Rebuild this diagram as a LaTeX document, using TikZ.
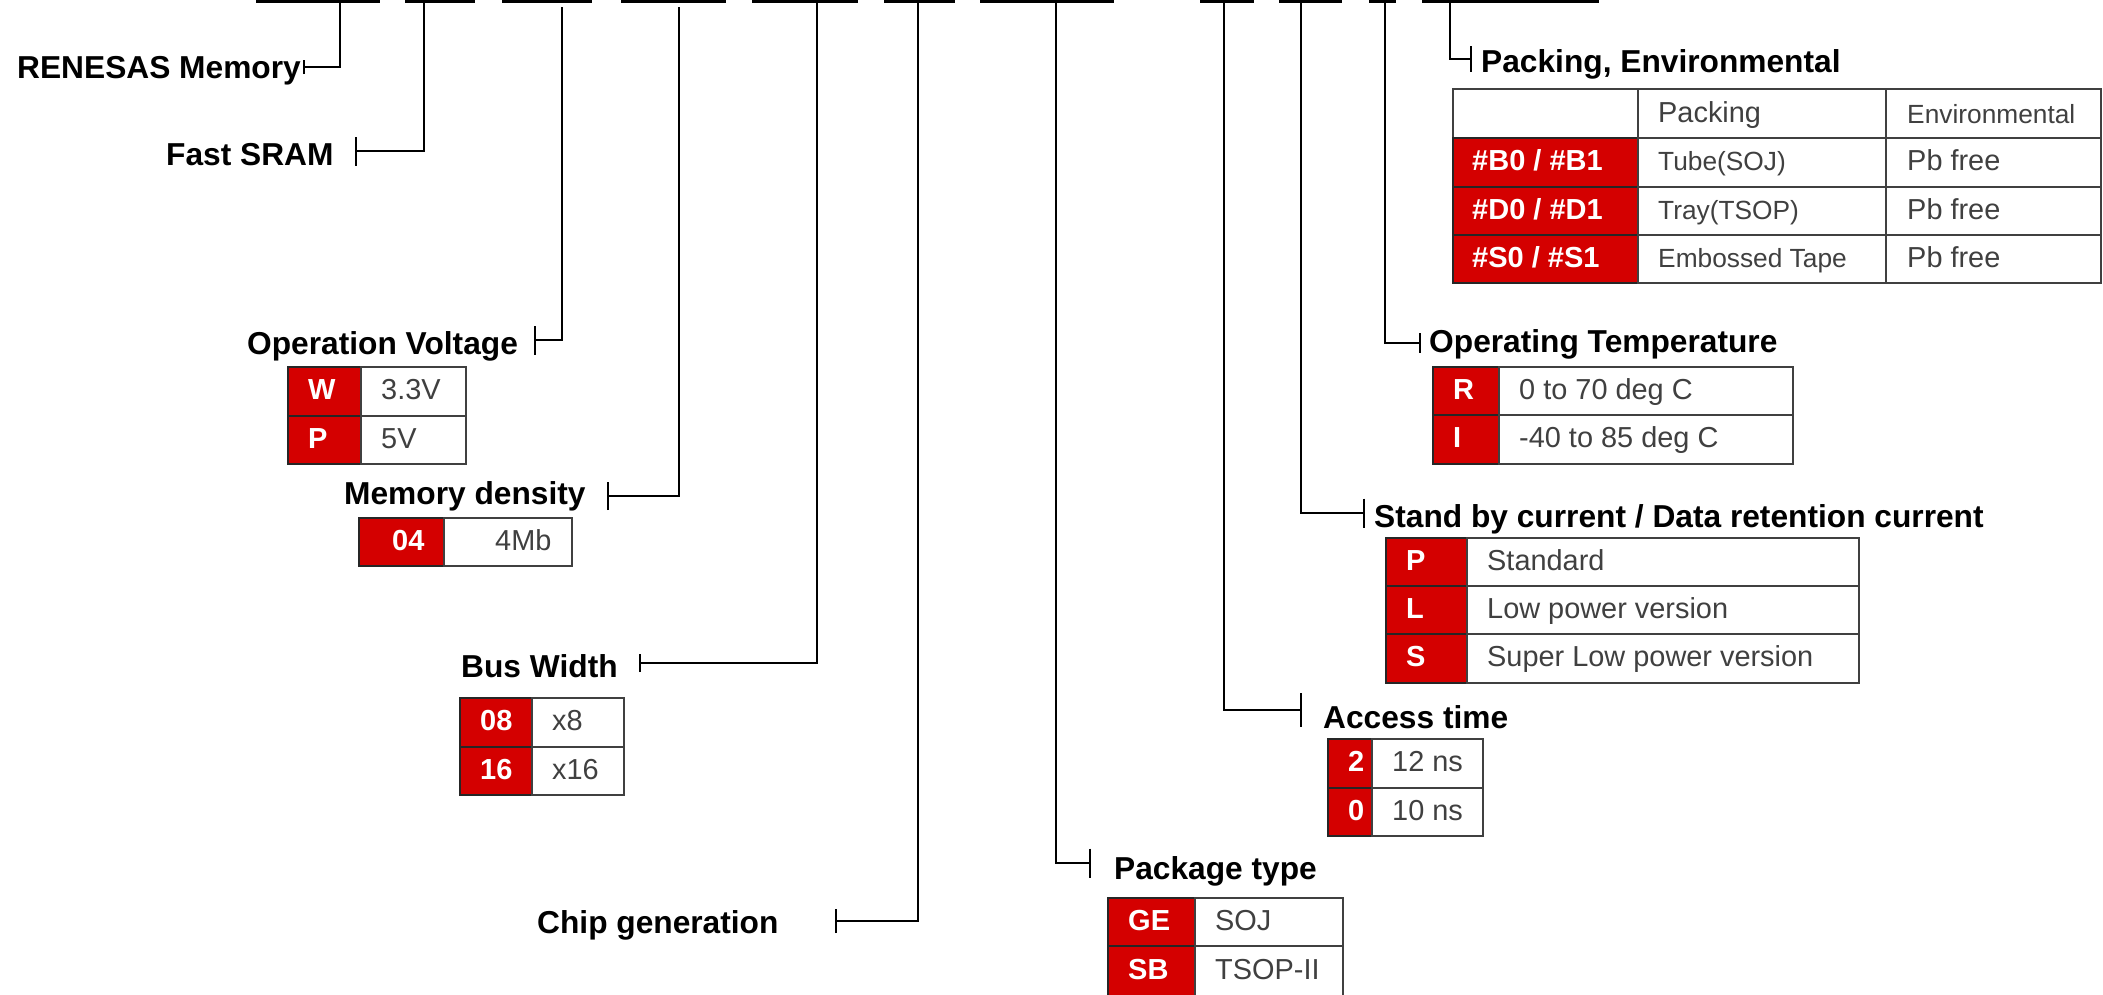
\documentclass[tikz,border=0pt]{standalone}
\usepackage{fontspec}
\setmainfont{Liberation Sans}
\usetikzlibrary{arrows.meta}
\definecolor{rred}{RGB}{212,0,0}
\definecolor{tgray}{RGB}{64,64,64}
\newcommand\TRow[8]{% x0 x1 x2 ytop ybot code value name
  \path[redcell] (#1,#4) rectangle (#2,#5);
  \path[wcell] (#2,#4) rectangle (#3,#5);
  \node[code] (#8c) at ({#1+20},{(#4+#5)/2+8}) {#6};
  \node[val] (#8v) at ({#2+20},{(#4+#5)/2+8}) {#7};
}
\begin{document}
\begin{tikzpicture}[x=1pt,y=-1pt,
  title/.style={font=\fontsize{31.7}{36}\selectfont\bfseries, inner sep=0pt, anchor=base west},
  code/.style={font=\fontsize{29}{33}\selectfont\bfseries, text=white, inner sep=0pt, anchor=base west},
  val/.style={font=\fontsize{28.9}{33}\selectfont, text=tgray, inner sep=0pt, anchor=base west},
  valsm/.style={font=\fontsize{26.3}{30}\selectfont, text=tgray, inner sep=0pt, anchor=base west},
  redcell/.style={fill=rred, draw=black!85, line width=1.6pt},
  wcell/.style={fill=white, draw=black!75, line width=1.6pt},
  barline/.style={line width=3pt},
  conn/.style={line width=2.2pt, -{Bar[width=#1]}}]
\useasboundingbox (0,0) rectangle (2103,994);

% top bars
\foreach \a/\b/\n in {256/380/1, 405/475/2, 502/592/3, 621/726/4, 752/858/5, 884/955/6, 980/1114/7, 1200/1254/8, 1279/1342/9, 1369/1396/10, 1422/1599/11}{
  \coordinate (barL\n) at (\a,1.5);
  \coordinate (barR\n) at (\b,1.5);
  \draw[barline] (barL\n) -- (barR\n);
}

% connector tops and ticks
\coordinate (top1) at (340,1.5);  \coordinate (tk1) at (303,67);
\coordinate (top2) at (424,1.5);  \coordinate (tk2) at (355,151);
\coordinate (top3) at (562,7);    \coordinate (tk3) at (534,340);
\coordinate (top4) at (679,7);    \coordinate (tk4) at (607,496);
\coordinate (top5) at (817,1.5);  \coordinate (tk5) at (639,663);
\coordinate (top6) at (918,1.5);  \coordinate (tk6) at (835,921);
\coordinate (top7) at (1056,3);   \coordinate (tk7) at (1091,863);
\coordinate (top8) at (1224,1.5); \coordinate (tk8) at (1302,710);
\coordinate (top9) at (1301,1.5); \coordinate (tk9) at (1365,513);
\coordinate (top10) at (1385,1.5);\coordinate (tk10) at (1421,343);
\coordinate (top11) at (1450,1.5);\coordinate (tk11) at (1472,59);

\draw[conn=14pt] (top1) |- (tk1);
\draw[conn=29pt] (top2) |- (tk2);
\draw[conn=29pt] (top3) |- (tk3);
\draw[conn=28pt] (top4) |- (tk4);
\draw[conn=18pt] (top5) |- (tk5);
\draw[conn=24pt] (top6) |- (tk6);
\draw[conn=29pt] (top7) |- (tk7);
\draw[conn=34pt] (top8) |- (tk8);
\draw[conn=29pt] (top9) |- (tk9);
\draw[conn=20pt] (top10) |- (tk10);
\draw[conn=26pt] (top11) |- (tk11);

% titles
\node[title] (renesas) at (17,78) {RENESAS Memory};
\node[title] (fast) at (166,165) {Fast SRAM};
\node[title] (opv) at (247,354) {Operation Voltage};
\node[title] (memd) at (344,504) {Memory density};
\node[title] (busw) at (461,677) {Bus Width};
\node[title] (chip) at (537,933) {Chip generation};
\node[title] (pkgt) at (1114,879) {Package type};
\node[title] (acc) at (1323,728) {Access time};
\node[title] (stby) at (1374,527) {Stand by current / Data retention current};
\node[title] (optemp) at (1429,352) {Operating Temperature};
\node[title] (packenv) at (1481,72) {Packing, Environmental};

% Operation voltage table
\TRow{288}{361}{466}{367}{416}{W}{3.3V}{ovW}
\TRow{288}{361}{466}{416}{464}{P}{5V}{ovP}

% Memory density table
\path[redcell] (359,518) rectangle (444,566);
\path[wcell] (444,518) rectangle (572,566);
\node[code] (md04) at (392,550) {04};
\node[val] (md4mb) at (495,550) {4Mb};

% Bus width table
\TRow{460}{532}{624}{698}{747}{08}{x8}{bw08}
\TRow{460}{532}{624}{747}{795}{16}{x16}{bw16}

% Package type table
\TRow{1108}{1195}{1343}{898}{946}{GE}{SOJ}{ptGE}
\TRow{1108}{1195}{1343}{946}{997}{SB}{TSOP-II}{ptSB}

% Access time table
\TRow{1328}{1372}{1483}{739}{788}{2}{12 ns}{at2}
\TRow{1328}{1372}{1483}{788}{836}{0}{10 ns}{at0}

% Stand by table
\TRow{1386}{1467}{1859}{538}{586}{P}{Standard}{sbP}
\TRow{1386}{1467}{1859}{586}{634}{L}{Low power version}{sbL}
\TRow{1386}{1467}{1859}{634}{683}{S}{Super Low power version}{sbS}

% Operating temperature table
\TRow{1433}{1499}{1793}{367}{415}{R}{0 to 70 deg C}{otR}
\TRow{1433}{1499}{1793}{415}{464}{I}{-40 to 85 deg C}{otI}

% Packing table
\path[wcell] (1453,89) rectangle (1638,138);
\path[wcell] (1638,89) rectangle (1886,138);
\path[wcell] (1886,89) rectangle (2101,138);
\node[val] (hpack) at (1658,122) {Packing};
\node[valsm] (henv) at (1907,123) {Environmental};
\foreach \yt/\yb/\c/\p/\n in {138/187/{\#B0 / \#B1}/{Tube(SOJ)}/B, 187/235/{\#D0 / \#D1}/{Tray(TSOP)}/D, 235/283/{\#S0 / \#S1}/{Embossed Tape}/S}{
  \path[redcell] (1453,\yt) rectangle (1638,\yb);
  \path[wcell] (1638,\yt) rectangle (1886,\yb);
  \path[wcell] (1886,\yt) rectangle (2101,\yb);
  \node[code] (pk\n c) at (1472,{(\yt+\yb)/2+8}) {\c};
  \node[valsm] (pk\n p) at (1658,{(\yt+\yb)/2+8}) {\p};
  \node[val] (pk\n e) at (1907,{(\yt+\yb)/2+8}) {Pb free};
}
\end{tikzpicture}
\end{document}
